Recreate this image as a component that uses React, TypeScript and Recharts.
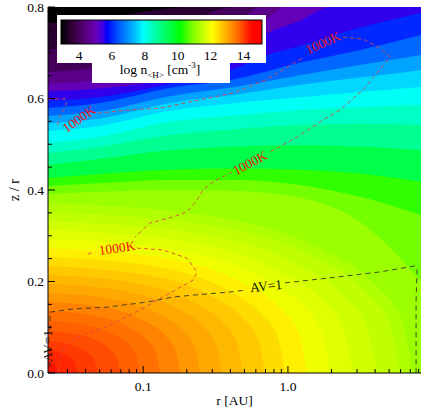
import React from 'react';
import { ComposedChart, Area, Line, XAxis, YAxis } from 'recharts';

const FONT = "'Liberation Serif', 'Times New Roman', 'DejaVu Serif', serif";

const R_MIN = 0.022;
const R_MAX = 8.3;
const Z_MAX = 0.8;

const X_MAJOR = [0.1, 1];
const X_TICKS = [0.03, 0.04, 0.05, 0.06, 0.07, 0.08, 0.09, 0.1, 0.2, 0.3, 0.4, 0.5, 0.6, 0.7, 0.8, 0.9, 1, 2, 3, 4, 5, 6, 7, 8];
const Y_MAJOR = [0, 0.2, 0.4, 0.6, 0.8];
const Y_TICKS = [0, 0.05, 0.1, 0.15, 0.2, 0.25, 0.3, 0.35, 0.4, 0.45, 0.5, 0.55, 0.6, 0.65, 0.7, 0.75, 0.8];

// log n<H> contour levels (first one = background), filled from z=0 up to the contour
const LEVELS = [3.0, 3.5, 4.0, 4.5, 5.0, 5.5, 6.0, 6.5, 7.0, 7.5, 8.0, 8.5, 9.0, 9.5, 10.0,
  10.25, 10.5, 10.75, 11.0, 11.25, 11.5, 11.75, 12.0, 12.25, 12.5, 12.75, 13.0, 13.25, 13.5, 13.75, 14.0, 14.25, 14.5, 14.75, 15.0];

const LEVEL_COLORS = ['#000000', '#2a0032', '#440058', '#5a0088', '#6400b8', '#3000ec', '#0028ff', '#0068ff', '#00a4ff', '#00d8ff',
  '#00fff4', '#00ffc4', '#00ff90', '#00ff48', '#30ff00', '#74ff00', '#9cff00', '#b0ff00', '#c0ff00', '#d0ff00', '#e0ff00', '#f0ff00',
  '#fff000', '#ffdc00', '#ffc800', '#ffb800', '#ffa800', '#ff9800', '#ff8200', '#ff7000', '#ff6000', '#ff4c00', '#ff3a00', '#ff2600', '#ff1200'];

// [r (AU), z/r] points of each contour
const CONTOURS: number[][][] = [
  [[0.022, 0.8], [8.3, 0.8]],
  [[0.022, 0.765], [0.05, 0.775], [0.21, 0.8], [8.3, 0.8]],
  [[0.022, 0.706], [0.05, 0.72], [0.15, 0.75], [0.43, 0.8], [8.3, 0.8]],
  [[0.022, 0.658], [0.05, 0.668], [0.15, 0.7], [0.4, 0.75], [0.65, 0.8], [8.3, 0.8]],
  [[0.022, 0.632], [0.05, 0.64], [0.153, 0.665], [0.43, 0.73], [0.72, 0.776], [0.95, 0.8], [8.3, 0.8]],
  [[0.022, 0.616], [0.05, 0.622], [0.153, 0.645], [0.43, 0.7], [0.72, 0.743], [1.21, 0.77], [1.95, 0.8], [8.3, 0.8]],
  [[0.022, 0.595], [0.05, 0.603], [0.153, 0.632], [0.43, 0.665], [0.72, 0.695], [1.21, 0.715], [3.15, 0.755], [8.3, 0.787]],
  [[0.022, 0.579], [0.05, 0.59], [0.153, 0.623], [0.43, 0.642], [1.21, 0.678], [3.15, 0.706], [8.3, 0.739]],
  [[0.022, 0.562], [0.05, 0.572], [0.153, 0.605], [0.43, 0.625], [1.21, 0.651], [3.15, 0.673], [8.3, 0.695]],
  [[0.022, 0.546], [0.05, 0.556], [0.153, 0.59], [0.43, 0.608], [1.21, 0.63], [3.15, 0.646], [8.3, 0.662]],
  [[0.022, 0.529], [0.05, 0.54], [0.153, 0.573], [0.43, 0.59], [1.21, 0.603], [3.15, 0.614], [8.3, 0.625]],
  [[0.022, 0.503], [0.05, 0.516], [0.153, 0.549], [0.43, 0.563], [1.21, 0.575], [3.15, 0.581], [8.3, 0.586]],
  [[0.022, 0.481], [0.05, 0.494], [0.153, 0.52], [0.43, 0.533], [1.21, 0.542], [3.15, 0.544], [8.3, 0.542]],
  [[0.022, 0.455], [0.05, 0.468], [0.153, 0.487], [0.43, 0.495], [1.21, 0.498], [3.15, 0.495], [8.3, 0.487]],
  [[0.022, 0.426], [0.05, 0.435], [0.153, 0.444], [0.43, 0.447], [1.21, 0.444], [3.15, 0.436], [8.3, 0.418]],
  [[0.022, 0.409], [0.05, 0.415], [0.153, 0.422], [0.43, 0.422], [1.21, 0.411], [3.15, 0.385], [8.3, 0.345]],
  [[0.022, 0.391], [0.05, 0.396], [0.153, 0.4], [0.43, 0.398], [1.21, 0.383], [3.15, 0.33], [8.3, 0.2]],
  [[0.022, 0.372], [0.376, 0.337], [1.66, 0.271], [4.04, 0.191], [6.12, 0.115], [7.32, 0]],
  [[0.022, 0.352], [0.339, 0.319], [1.421, 0.257], [3.357, 0.181], [5.01, 0.109], [5.95, 0]],
  [[0.022, 0.332], [0.283, 0.301], [1.08, 0.242], [2.414, 0.17], [3.515, 0.103], [4.128, 0]],
  [[0.022, 0.313], [0.2335, 0.283], [0.811, 0.228], [1.712, 0.16], [2.425, 0.097], [2.817, 0]],
  [[0.022, 0.293], [0.1944, 0.265], [0.616, 0.214], [1.231, 0.15], [1.701, 0.091], [1.954, 0]],
  [[0.022, 0.273], [0.162, 0.248], [0.4685, 0.199], [0.886, 0.14], [1.193, 0.085], [1.355, 0]],
  [[0.022, 0.254], [0.1359, 0.23], [0.36, 0.185], [0.647, 0.13], [0.849, 0.079], [0.955, 0]],
  [[0.022, 0.234], [0.1159, 0.212], [0.2837, 0.171], [0.4856, 0.12], [0.6237, 0.073], [0.6946, 0]],
  [[0.022, 0.214], [0.0973, 0.194], [0.2183, 0.156], [0.3541, 0.11], [0.4441, 0.066], [0.4894, 0]],
  [[0.022, 0.195], [0.0823, 0.176], [0.1699, 0.142], [0.2623, 0.1], [0.321, 0.06], [0.3503, 0]],
  [[0.022, 0.175], [0.0691, 0.159], [0.1306, 0.128], [0.1913, 0.09], [0.2287, 0.054], [0.2469, 0]],
  [[0.022, 0.155], [0.059, 0.141], [0.1029, 0.113], [0.1437, 0.08], [0.168, 0.048], [0.1796, 0]],
  [[0.022, 0.136], [0.0503, 0.123], [0.081, 0.099], [0.1079, 0.07], [0.1234, 0.042], [0.1306, 0]],
  [[0.022, 0.114], [0.0429, 0.103], [0.0638, 0.083], [0.081, 0.058], [0.0906, 0.035], [0.095, 0]],
  [[0.022, 0.092], [0.0366, 0.083], [0.0503, 0.067], [0.0608, 0.047], [0.0665, 0.029], [0.0691, 0]],
  [[0.022, 0.07], [0.0305, 0.063], [0.0382, 0.051], [0.0438, 0.036], [0.0467, 0.022], [0.0479, 0]],
  [[0.022, 0.05], [0.026, 0.046], [0.0301, 0.037], [0.0329, 0.026], [0.0343, 0.016], [0.0349, 0]],
  [[0.022, 0.028], [0.0237, 0.021], [0.0247, 0.015], [0.0252, 0.009], [0.0254, 0]],
];

// T = 1000 K contour, in pieces (broken where the labels sit)
const T1000_PIECES: number[][][] = [
  [[0.022, 0.599], [0.0293, 0.599], [0.0293, 0.584], [0.0262, 0.557], [0.0254, 0.536]],
  [[0.0487, 0.568], [0.081, 0.575], [0.1306, 0.579], [0.2469, 0.597], [0.4174, 0.612], [0.6946, 0.64], [1.271, 0.689]],
  [[2.403, 0.734], [3.303, 0.73], [4.329, 0.71], [5.077, 0.691], [4.128, 0.656], [3.303, 0.619], [2.291, 0.575], [1.748, 0.553], [1.156, 0.516], [0.7518, 0.483]],
  [[0.4108, 0.439], [0.3036, 0.418], [0.2588, 0.4], [0.2353, 0.378], [0.2007, 0.352], [0.1606, 0.341], [0.1114, 0.328], [0.0877, 0.297]],
  [[0.0415, 0.26], [0.0464, 0.265]],
  [[0.0906, 0.273], [0.137, 0.269], [0.2007, 0.251], [0.2353, 0.221], [0.2208, 0.203], [0.1532, 0.175], [0.095, 0.138], [0.0562, 0.101], [0.0366, 0.081], [0.0302, 0.066], [0.0275, 0.046], [0.0262, 0.024], [0.0258, 0]],
];

// AV = 1 contour
const AV1_PIECES: number[][][] = [
  [[0.0227, 0.094], [0.0227, 0.133], [0.0327, 0.14], [0.0562, 0.144], [0.1062, 0.155], [0.1606, 0.166], [0.2353, 0.171], [0.398, 0.177], [0.505, 0.181]],
  [[0.9548, 0.197], [1.954, 0.208], [4.329, 0.221], [7.554, 0.234], [7.8, 0.225], [7.676, 0.16], [7.676, 0]],
  [[0.0227, 0.024], [0.0227, 0]],
];

const CBAR_MIN = 2.9;
const CBAR_MAX = 15.13;
const CBAR_TICKS = [4, 6, 8, 10, 12, 14];
const CBAR_VALUES = [2.9, 3.5, 4.0, 4.5, 5.0, 5.4, 5.7, 6.2, 6.8, 7.4, 7.9, 8.4, 9.0, 9.6, 10.15, 10.7, 11.2, 11.8, 12.1, 12.6, 13.1, 13.6, 14.0, 14.4, 14.8, 15.13];
const CBAR_COLORS = ['#000000', '#2c0030', '#460058', '#5c0088', '#6a00b4', '#4800e0', '#0000ff', '#0040ff', '#0080ff', '#00c0ff', '#00ffff', '#00ffc0',
  '#00ff80', '#00ff40', '#00ff00', '#60ff00', '#a0ff00', '#e0ff00', '#ffff00', '#ffd000', '#ffa000', '#ff7000', '#ff4000', '#ff1000', '#ff0000', '#ff0000'];

// one table, one column per contour level
const fieldRows = (() => {
  const byR = new Map<number, any>();
  CONTOURS.forEach((pts, i) => {
    pts.forEach(([r, z]) => {
      const row = byR.get(r) ?? { r };
      row[`c${i}`] = z;
      byR.set(r, row);
    });
  });
  return [...byR.values()].sort((a, b) => a.r - b.r);
})();

const toRows = (pts: number[][]) => pts.map(([r, z]) => ({ r, z }));

const txt = { fontFamily: FONT };

const BottomTick = (props: any) => {
  const { x, y, payload } = props;
  const major = X_MAJOR.includes(payload.value);
  return (
    <g>
      <line x1={x} y1={y} x2={x} y2={y - (major ? 7 : 4)} stroke="#000" />
      {major && (
        <text x={x} y={y + 18} textAnchor="middle" fontSize={13.5} style={txt} fill="#000">
          {payload.value.toFixed(1)}
        </text>
      )}
    </g>
  );
};

const TopTick = (props: any) => {
  const { x, y, payload } = props;
  const major = X_MAJOR.includes(payload.value);
  return <line x1={x} y1={y} x2={x} y2={y + (major ? 7 : 4)} stroke="#000" />;
};

const LeftTick = (props: any) => {
  const { x, y, payload } = props;
  const major = Y_MAJOR.includes(payload.value);
  return (
    <g>
      <line x1={x} y1={y} x2={x + (major ? 7 : 4)} y2={y} stroke="#000" />
      {major && (
        <text x={x - 4} y={y + 4.5} textAnchor="end" fontSize={13.5} style={txt} fill="#000">
          {payload.value.toFixed(1)}
        </text>
      )}
    </g>
  );
};

const RightTick = (props: any) => {
  const { x, y, payload } = props;
  const major = Y_MAJOR.includes(payload.value);
  return <line x1={x} y1={y} x2={x - (major ? 7 : 4)} y2={y} stroke="#000" />;
};

const CbarTick = (props: any) => {
  const { x, y, payload } = props;
  return (
    <text x={x} y={y + 16} textAnchor="middle" fontSize={13.5} style={txt} fill="#000">
      {payload.value}
    </text>
  );
};

const T_LABELS = [
  { x: 79, y: 119, rot: -35 },
  { x: 323, y: 43, rot: -24 },
  { x: 250, y: 163, rot: -28 },
  { x: 117, y: 248, rot: -8 },
];

export default function App() {
  return (
    <div style={{ position: 'absolute', left: 0, top: 0, width: 436, height: 411, background: '#fff' }}>
      <svg width={0} height={0} style={{ position: 'absolute' }}>
        <defs>
          <linearGradient id="cbarGrad" x1="0" y1="0" x2="1" y2="0">
            {CBAR_VALUES.map((v, i) => (
              <stop key={i} offset={(v - CBAR_MIN) / (CBAR_MAX - CBAR_MIN)} stopColor={CBAR_COLORS[i]} />
            ))}
          </linearGradient>
        </defs>
      </svg>

      <div style={{ position: 'absolute', left: 0, top: 0 }}>
        <ComposedChart width={436} height={411} data={fieldRows} margin={{ top: 7, right: 15, bottom: 8, left: 0 }}>
          {LEVELS.map((lv, i) => (
            <Area
              key={`lv-${lv}`}
              xAxisId="b"
              yAxisId="l"
              dataKey={`c${i}`}
              type="monotone"
              connectNulls
              baseValue={0}
              stroke="none"
              fill={LEVEL_COLORS[i]}
              fillOpacity={1}
              dot={false}
              activeDot={false}
              isAnimationActive={false}
            />
          ))}
          {T1000_PIECES.map((pts, i) => (
            <Line
              key={`t-${i}`}
              xAxisId="b"
              yAxisId="l"
              data={toRows(pts)}
              dataKey="z"
              type="linear"
              stroke="#d84848"
              strokeWidth={0.9}
              strokeDasharray="4 3"
              dot={false}
              activeDot={false}
              isAnimationActive={false}
            />
          ))}
          {AV1_PIECES.map((pts, i) => (
            <Line
              key={`av-${i}`}
              xAxisId="b"
              yAxisId="l"
              data={toRows(pts)}
              dataKey="z"
              type="linear"
              stroke="#333"
              strokeWidth={0.9}
              strokeDasharray="5 4"
              dot={false}
              activeDot={false}
              isAnimationActive={false}
            />
          ))}
          <XAxis xAxisId="b" dataKey="r" type="number" scale="log" domain={[R_MIN, R_MAX]} allowDataOverflow
            ticks={X_TICKS} interval={0} height={30} tickSize={0} tickMargin={0} tickLine={false}
            axisLine={{ stroke: '#000' }} tick={<BottomTick />} />
          <XAxis xAxisId="t" orientation="top" dataKey="r" type="number" scale="log" domain={[R_MIN, R_MAX]} allowDataOverflow
            ticks={X_TICKS} interval={0} height={0} tickSize={0} tickMargin={0} tickLine={false}
            axisLine={{ stroke: '#000' }} tick={<TopTick />} />
          <YAxis yAxisId="l" type="number" domain={[0, Z_MAX]} allowDataOverflow ticks={Y_TICKS} interval={0}
            width={48} tickSize={0} tickMargin={0} tickLine={false} axisLine={{ stroke: '#000' }} tick={<LeftTick />} />
          <YAxis yAxisId="r" orientation="right" type="number" domain={[0, Z_MAX]} allowDataOverflow ticks={Y_TICKS} interval={0}
            width={0} tickSize={0} tickMargin={0} tickLine={false} axisLine={{ stroke: '#000' }} tick={<RightTick />} />
        </ComposedChart>
      </div>

      {/* white box behind the colour bar */}
      <svg width={436} height={411} style={{ position: 'absolute', left: 0, top: 0 }}>
        <path d="M57,15 H266 V63 H230 V83 H92 V63 H57 Z" fill="#fff" />
      </svg>

      <div style={{ position: 'absolute', left: 61, top: 20 }}>
        <ComposedChart width={201} height={48} data={[{ v: CBAR_MIN, h: 1 }, { v: CBAR_MAX, h: 1 }]} margin={{ top: 0, right: 0, bottom: 0, left: 0 }}>
          <Area dataKey="h" type="linear" baseValue={0} stroke="none" fill="url(#cbarGrad)" fillOpacity={1} dot={false} activeDot={false} isAnimationActive={false} />
          <XAxis dataKey="v" type="number" domain={[CBAR_MIN, CBAR_MAX]} allowDataOverflow ticks={CBAR_TICKS} interval={0}
            height={24} tickSize={0} tickMargin={0} axisLine={false} tickLine={false} tick={<CbarTick />} />
          <YAxis hide type="number" domain={[0, 1]} />
        </ComposedChart>
      </div>

      <svg width={436} height={411} style={{ position: 'absolute', left: 0, top: 0, pointerEvents: 'none', fontFamily: FONT }}>
        <rect x={61} y={20} width={201} height={24} fill="none" stroke="#000" strokeWidth={1} />
        <text x={160} y={74} textAnchor="middle" fontSize={13.5} fill="#000" style={txt}>
          log n<tspan fontSize={9} dy={4}>&lt;H&gt;</tspan>
          <tspan dy={-4}> [cm</tspan>
          <tspan fontSize={9} dy={-6}>-3</tspan>
          <tspan dy={6}>]</tspan>
        </text>

        {T_LABELS.map((l, i) => (
          <text key={i} x={l.x} y={l.y} textAnchor="middle" dominantBaseline="central" fontSize={13.5} fill="#ee1111" style={txt}
            transform={`rotate(${l.rot} ${l.x} ${l.y})`}>1000K</text>
        ))}
        <text x={266} y={286} textAnchor="middle" dominantBaseline="central" fontSize={13.5} fill="#111" style={txt}
          transform="rotate(-6 266 286)">AV=1</text>
        <text x={47} y={346} textAnchor="middle" dominantBaseline="central" fontSize={13.5} fill="#111" style={txt}
          transform="rotate(-90 47 346)">AV=1</text>

        <text x={14} y={190} textAnchor="middle" dominantBaseline="central" fontSize={14} fill="#000" style={txt}
          transform="rotate(-90 14 190)">z / r</text>
        <text x={234.5} y={405} textAnchor="middle" fontSize={13.5} fill="#000" style={txt}>r [AU]</text>
      </svg>
    </div>
  );
}
